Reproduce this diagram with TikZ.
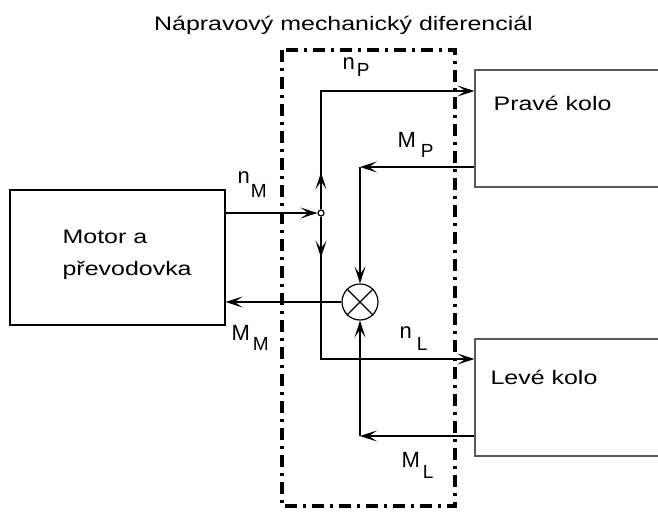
\documentclass[tikz,border=0pt]{standalone}
\usepackage{fontspec}
\setmainfont{Liberation Sans}
\newfontfamily\widefont[FakeStretch=1.28]{Liberation Sans}
\usetikzlibrary{arrows.meta}
\newcommand\lbl[4]{#1\hspace{#4pt}\raisebox{-#3pt}{\fontsize{19}{19}\selectfont #2}}
\begin{document}
\begin{tikzpicture}[x=1pt,y=-1pt,line width=1.2pt,
  arr/.style={-{Stealth[length=17pt,width=11pt,inset=8pt]}},
  motorbox/.style={draw,black,minimum width=215pt,minimum height=135pt,inner sep=0pt},
  wheelbox/.style={draw,gray!70!black,minimum width=225pt,minimum height=117pt,inner sep=0pt},
  txt/.style={font=\widefont\fontsize{19.5}{24}\selectfont,inner sep=0pt,anchor=base west},
  lab/.style={font=\fontsize{22}{22}\selectfont,inner sep=0pt,anchor=base west},
  frame/.style={line width=3.4pt,dash pattern=on 12pt off 6pt on 3pt off 6pt}]
\useasboundingbox (0,0) rectangle (658,511);

% frame of the differential
\draw[frame] (282,50) rectangle (455,506);
\node[font=\widefont\fontsize{19.5}{24}\selectfont,inner sep=0pt,anchor=base] (title) at (343.5,31) {Nápravový mechanický diferenciál};

% blocks
\node[motorbox] (M) at (117.5,257.5) {};
\node[wheelbox] (P) at (587.5,128.5) {};
\node[wheelbox] (L) at (587.5,397.5) {};
\node[txt] (mt1) at (62,243) {Motor a};
\node[txt] (mt2) at (62,275) {převodovka};
\node[txt] (pt) at (493,110) {Pravé kolo};
\node[txt] (lt) at (490,384) {Levé kolo};

% junction and summing point
\node[draw,circle,fill=white,minimum size=6pt,inner sep=0pt] (J) at (321,213) {};
\node[draw,circle,minimum size=36pt,inner sep=0pt] (X) at (360,302) {};
\draw (X.north west) -- (X.south east) (X.north east) -- (X.south west);

\coordinate (tp) at (321,91);
\coordinate (bt) at (321,359);
\coordinate (cP) at (360,167);
\coordinate (cL) at (360,436);

% speeds
\draw[arr] (M.east |- J) -- (J.west);
\draw[arr] (J.north) -- (tp) -- (tp -| P.west);
\draw[arr] (J.south) -- (bt) -- (bt -| L.west);
\draw[arr] (J.north) -- ++(0,-37);
\draw[arr] (J.south) -- ++(0,41);

% torques
\draw[arr] (P.west |- cP) -- (cP);
\draw[arr] (cP) -- (X.north);
\draw[arr] (L.west |- cL) -- (cL);
\draw[arr] (cL) -- (X.south);
\draw[arr] (X.west) -- (X.west -| M.east);

% labels
\node[lab] (lnP) at (342,70) {\lbl{n}{P}{7}{2}};
\node[lab] (lnM) at (237,183) {\lbl{n}{M}{14}{1}};
\node[lab] (lMP) at (397,147) {\lbl{M}{P}{10}{5}};
\node[lab] (lMM) at (231,340) {\lbl{M}{M}{10}{3}};
\node[lab] (lnL) at (399,338) {\lbl{n}{L}{12}{5}};
\node[lab] (lML) at (401,467) {\lbl{M}{L}{11}{3}};
\end{tikzpicture}
\end{document}
